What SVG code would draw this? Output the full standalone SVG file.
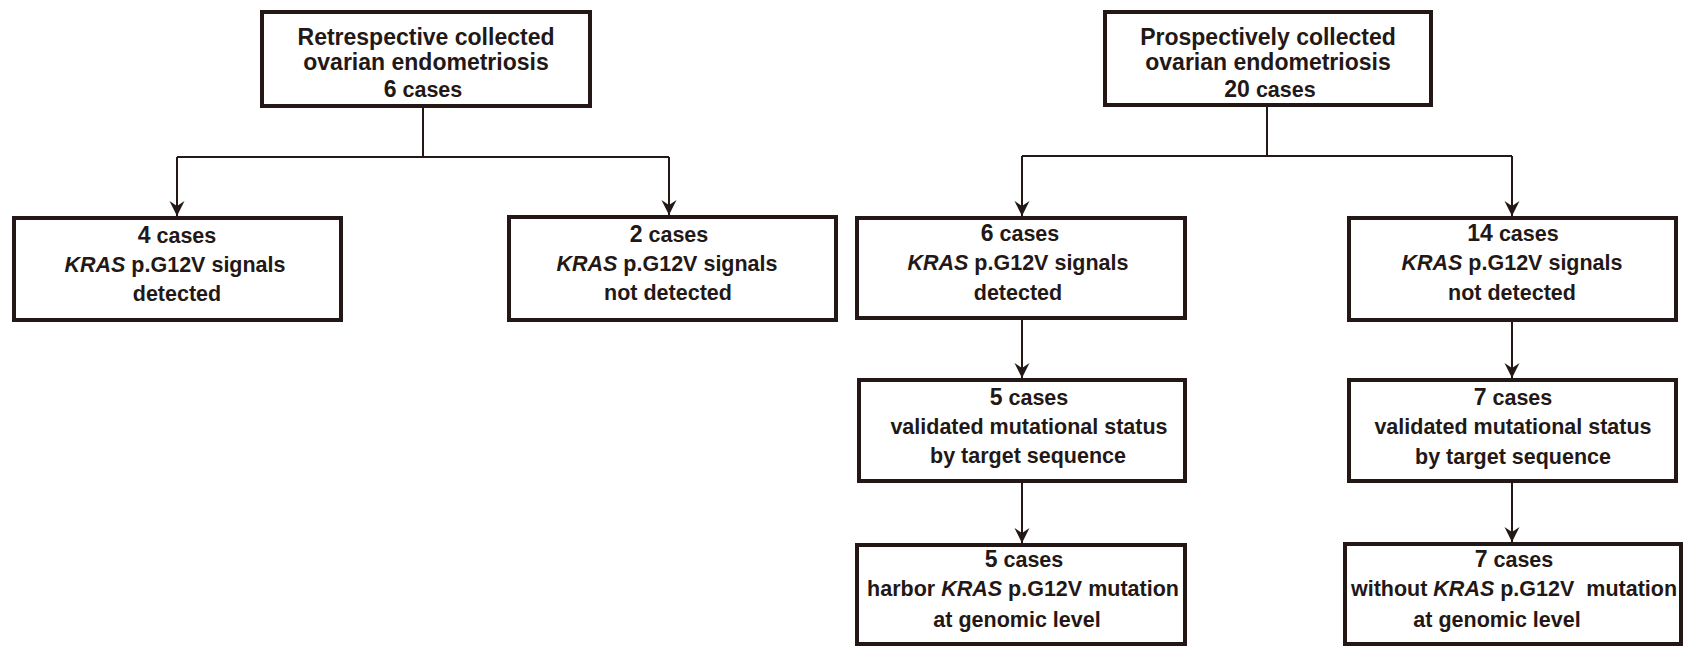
<svg xmlns="http://www.w3.org/2000/svg" width="1691" height="646" viewBox="0 0 1691 646">
<style>
.box{fill:#ffffff;stroke:#231815;stroke-width:4}
.t{font-family:"Liberation Sans",Arial,sans-serif;font-weight:bold;font-size:21.5px;fill:#231815;text-anchor:middle}
.tt{font-size:23px}
.n{font-size:23px}
.i{font-style:italic}
.c{fill:none;stroke:#231815;stroke-width:2}
</style>
<defs>
<marker id="arr" markerUnits="userSpaceOnUse" markerWidth="17" markerHeight="16" viewBox="-16 -8 17 16" refX="0" refY="0" orient="auto">
<path d="M0,0 L-15,-7.5 L-10,0 L-15,7.5 Z" fill="#231815"/>
</marker>
</defs>
<rect width="1691" height="646" fill="#ffffff"/>
<g id="connectors">
<path class="c" d="M423,108 V157"/>
<path class="c" d="M177,157 H669"/>
<path class="c" d="M177,157 V216" marker-end="url(#arr)"/>
<path class="c" d="M669,157 V215" marker-end="url(#arr)"/>
<path class="c" d="M1267,107 V156"/>
<path class="c" d="M1022,156 H1512"/>
<path class="c" d="M1022,156 V216" marker-end="url(#arr)"/>
<path class="c" d="M1512,156 V216" marker-end="url(#arr)"/>
<path class="c" d="M1022,320 V378" marker-end="url(#arr)"/>
<path class="c" d="M1022,483 V543" marker-end="url(#arr)"/>
<path class="c" d="M1512,322 V378" marker-end="url(#arr)"/>
<path class="c" d="M1512,483 V542" marker-end="url(#arr)"/>
</g>
<g id="retro">
<rect class="box" x="262" y="12" width="328" height="94"/>
<text class="t tt" x="426" y="45">Retrespective collected</text>
<text class="t tt" x="426" y="70">ovarian endometriosis</text>
<text class="t" x="423" y="97"><tspan class="n">6</tspan> cases</text>
</g>
<g id="prosp">
<rect class="box" x="1105" y="12" width="326" height="93"/>
<text class="t tt" x="1268" y="45">Prospectively collected</text>
<text class="t tt" x="1268" y="70">ovarian endometriosis</text>
<text class="t" x="1270" y="97"><tspan class="n">20</tspan> cases</text>
</g>
<g id="retro-det">
<rect class="box" x="14" y="218" width="327" height="102"/>
<text class="t" x="177" y="243"><tspan class="n">4</tspan> cases</text>
<text class="t" x="175" y="272"><tspan class="i">KRAS</tspan> p.G12V signals</text>
<text class="t" x="177" y="301">detected</text>
</g>
<g id="retro-notdet">
<rect class="box" x="509" y="217" width="327" height="103"/>
<text class="t" x="669" y="242"><tspan class="n">2</tspan> cases</text>
<text class="t" x="667" y="271"><tspan class="i">KRAS</tspan> p.G12V signals</text>
<text class="t" x="668" y="300">not detected</text>
</g>
<g id="prosp-det">
<rect class="box" x="857" y="218" width="328" height="100"/>
<text class="t" x="1020" y="241"><tspan class="n">6</tspan> cases</text>
<text class="t" x="1018" y="270"><tspan class="i">KRAS</tspan> p.G12V signals</text>
<text class="t" x="1018" y="300">detected</text>
</g>
<g id="prosp-notdet">
<rect class="box" x="1349" y="218" width="327" height="102"/>
<text class="t" x="1513" y="241"><tspan class="n">14</tspan> cases</text>
<text class="t" x="1512" y="270"><tspan class="i">KRAS</tspan> p.G12V signals</text>
<text class="t" x="1512" y="300">not detected</text>
</g>
<g id="prosp-det-val">
<rect class="box" x="859" y="380" width="326" height="101"/>
<text class="t" x="1029" y="405"><tspan class="n">5</tspan> cases</text>
<text class="t" x="1029" y="434">validated mutational status</text>
<text class="t" x="1028" y="463">by target sequence</text>
</g>
<g id="prosp-notdet-val">
<rect class="box" x="1349" y="380" width="327" height="101"/>
<text class="t" x="1513" y="405"><tspan class="n">7</tspan> cases</text>
<text class="t" x="1513" y="434">validated mutational status</text>
<text class="t" x="1513" y="464">by target sequence</text>
</g>
<g id="prosp-det-gen">
<rect class="box" x="857" y="545" width="328" height="99"/>
<text class="t" x="1024" y="567"><tspan class="n">5</tspan> cases</text>
<text class="t" x="1023" y="596">harbor <tspan class="i">KRAS</tspan> p.G12V mutation</text>
<text class="t" x="1017" y="627">at genomic level</text>
</g>
<g id="prosp-notdet-gen">
<rect class="box" x="1345" y="544" width="336" height="100"/>
<text class="t" x="1514" y="567"><tspan class="n">7</tspan> cases</text>
<text class="t" x="1514" y="596" xml:space="preserve">without <tspan class="i">KRAS</tspan> p.G12V  mutation</text>
<text class="t" x="1497" y="627">at genomic level</text>
</g>
</svg>
